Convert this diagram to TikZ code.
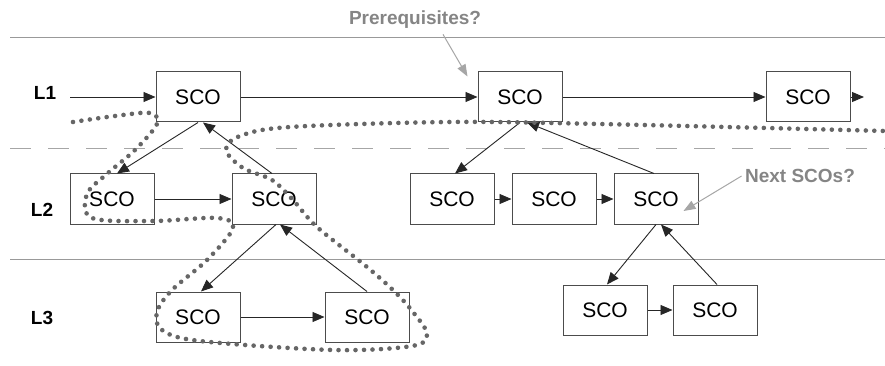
\documentclass[tikz,border=0pt]{standalone}
\usepackage{fontspec}
\setmainfont{Liberation Sans}
\usetikzlibrary{arrows.meta}

\begin{document}
\begin{tikzpicture}[x=1pt,y=-1pt, sco/.style={draw=black!70,line width=1pt,minimum width=84pt,minimum height=50pt,inner sep=0pt,font=\fontsize{21}{24}\selectfont}, lvl/.style={font=\fontsize{19}{22}\selectfont\bfseries}, flow/.style={-{Triangle[length=12pt,width=10pt]},line width=0.9pt,black!85}, note/.style={font=\fontsize{19}{22}\selectfont\bfseries,text=black!48}, hint/.style={-{Triangle[length=12pt,width=9pt]},line width=1pt,black!35}, rule/.style={black!40,line width=0.8pt}, lane/.style={black!35,line width=0.9pt,dash pattern=on 21pt off 17pt}, trace/.style={black!60,line width=4.6pt,line cap=round,dash pattern=on 0pt off 8.5pt}]
\fill[white] (0,0) rectangle (885,366); \useasboundingbox (0,0) rectangle (885,366);
\draw[rule] (10,37)--(885,37); \draw[lane] (10,148)--(885,148); \draw[rule] (10,259)--(885,259);
\node[lvl] (l1) at (45,93) {L1}; \node[lvl] (l2) at (42,210) {L2}; \node[lvl] (l3) at (42,318) {L3};
% level 1
\node[sco] (s1a) at (198,97) {SCO}; \node[sco] (s1b) at (520,97) {SCO}; \node[sco] (s1c) at (808,97) {SCO};
% level 2
\node[sco] (s2a) at (112,199) {SCO}; \node[sco] (s2b) at (274,199) {SCO};
\node[sco] (s2c) at (452,199) {SCO}; \node[sco] (s2d) at (554,199) {SCO}; \node[sco] (s2e) at (656,199) {SCO};
% level 3
\node[sco] (s3a) at (198,317) {SCO}; \node[sco] (s3b) at (367,317) {SCO};
\node[sco] (s3c) at (605,310) {SCO}; \node[sco] (s3d) at (715,310) {SCO};
\coordinate (in) at (70,97); \coordinate (out) at (864,97);
\draw[flow] (in)--(s1a); \draw[flow] (s1a)--(s1b); \draw[flow] (s1b)--(s1c); \draw[flow] (s1c)--(out);
\draw[flow] (s2a)--(s2b); \draw[flow] (s2c)--(s2d); \draw[flow] (s2d)--(s2e);
\draw[flow] (s3a)--(s3b); \draw[flow] (s3c)--(s3d);
\draw[flow] (s1a.south)--([xshift=5pt]s2a.north); \draw[flow] ([xshift=-2pt]s2b.north)--([xshift=5pt]s1a.south);
\draw[flow] (s1b.south)--([xshift=3pt]s2c.north); \draw[flow] ([xshift=-2pt]s2e.north)--([xshift=7pt]s1b.south);
\draw[flow] ([xshift=2pt]s2b.south)--([xshift=3pt]s3a.north); \draw[flow] (s3b.north)--([xshift=6pt]s2b.south);
\draw[flow] (s2e.south)--([xshift=2pt]s3c.north); \draw[flow] ([xshift=2pt]s3d.north)--([xshift=5pt]s2e.south);
% questions
\node[note] (preq) at (415,20) {Prerequisites?}; \node[note] (next) at (800,176) {Next SCOs?};
\draw[hint] ([xshift=28pt,yshift=-2pt]preq.south)--([xshift=-10pt,yshift=-5pt]s1b.north west);
\draw[hint] (next.west)--([xshift=-15pt,yshift=-12pt]s2e.east);
% traversal
\draw[trace] plot[smooth,tension=0.55] coordinates {(73,122) (115,116) (150,113) (157,124) (135,150) (108,173) (87,194) (92,218) (153,221) (217,218) (233,228) (207,260) (172,290) (157,312) (162,330) (200,341) (333,350) (412,346) (427,334) (413,312) (395,292) (367,267) (317,227) (293,200) (272,180) (243,168) (226,150) (240,136) (290,127) (450,122) (600,124) (885,131)};
\end{tikzpicture}
\end{document}
